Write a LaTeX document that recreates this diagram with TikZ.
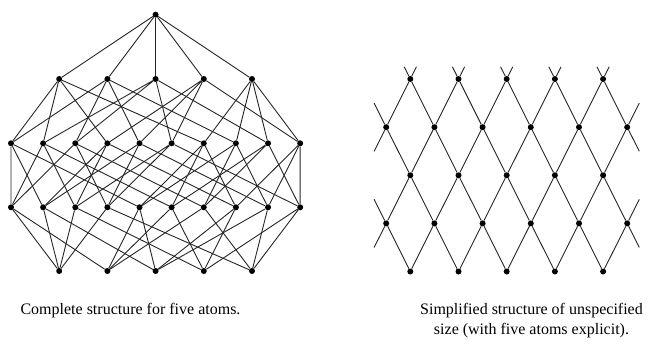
\documentclass[tikz,border=0pt]{standalone}
\usepackage{fontspec}
\setmainfont{Liberation Serif}
\usetikzlibrary{positioning}

\begin{document}
\begin{tikzpicture}[
    x=1pt, y=-1pt,
    atom/.style={circle, fill=black, inner sep=0pt, minimum size=6pt},
    edge/.style={line width=0.9pt, black!85},
    caption/.style={font=\fontsize{16}{20}\selectfont, align=center}
]
\useasboundingbox (0,0) rectangle (654,346);

% ============ COMPLETE STRUCTURE (LEFT) ============
\node[atom] (top) at (155.6,14.7) {};

% quadruples, triples, pairs, atoms
\foreach \n [count=\i] in {1234,1235,1245,1345,2345}
    \node[atom] (q\n) at ({155.6+48.2*(\i-3)},79) {};
\foreach \n [count=\i] in {123,124,125,134,135,145,234,235,245,345}
    \node[atom] (t\n) at ({11+32.13*(\i-1)},143.3) {};
\foreach \n [count=\i] in {12,13,14,15,23,24,25,34,35,45}
    \node[atom] (p\n) at ({11+32.13*(\i-1)},207.3) {};
\foreach \n [count=\i] in {1,...,5}
    \node[atom] (a\n) at ({155.6+48.2*(\i-3)},271) {};

% edges
\foreach \n in {1234,1235,1245,1345,2345}
    \draw[edge] (top) -- (q\n);
\foreach \q/\a/\b/\c/\d in {1234/123/124/134/234, 1235/123/125/135/235,
        1245/124/125/145/245, 1345/134/135/145/345, 2345/234/235/245/345}
    \draw[edge] (q\q) -- (t\a) (q\q) -- (t\b) (q\q) -- (t\c) (q\q) -- (t\d);
\foreach \t/\a/\b/\c in {123/12/13/23, 124/12/14/24, 125/12/15/25, 134/13/14/34,
        135/13/15/35, 145/14/15/45, 234/23/24/34, 235/23/25/35, 245/24/25/45, 345/34/35/45}
    \draw[edge] (t\t) -- (p\a) (t\t) -- (p\b) (t\t) -- (p\c);
\foreach \a/\b in {1/2,1/3,1/4,1/5,2/3,2/4,2/5,3/4,3/5,4/5}
    \draw[edge] (a\a) -- (p\a\b) -- (a\b);

% ============ SIMPLIFIED STRUCTURE (RIGHT) ============
\foreach \r/\y in {1/79,3/175.3,5/271.5}
    \foreach \k in {1,...,5}
        \node[atom] (r\r-\k) at ({410.3+48.2*(\k-1)},\y) {};
\foreach \r/\y in {2/127.2,4/223.4}
    \foreach \k in {1,...,6}
        \node[atom] (r\r-\k) at ({386.2+48.2*(\k-1)},\y) {};

% diamonds
\foreach \r/\u/\d in {2/1/3,4/3/5}
    \foreach \k/\j in {1/2,2/3,3/4,4/5,5/6} {
        \draw[edge] (r\u-\k) -- (r\r-\k) -- (r\d-\k);
        \draw[edge] (r\u-\k) -- (r\r-\j) -- (r\d-\k);
    }

% open ends
\foreach \k in {1,...,5}
    \draw[edge] (r1-\k) -- ++(-6.1,-12.2) coordinate (ul\k)
                (r1-\k) -- ++(6.1,-12.2) coordinate (ur\k);
\foreach \r in {2,4} {
    \draw[edge] (r\r-1) -- ++(-12.1,-24.1) coordinate (lu\r)
                (r\r-1) -- ++(-12.1,24.1) coordinate (ld\r);
    \draw[edge] (r\r-6) -- ++(12.1,-24.1) coordinate (ru\r)
                (r\r-6) -- ++(12.1,24.1) coordinate (rd\r);
}

% captions
\node[caption] (capL) at (130.5,311) {Complete structure for five atoms.};
\node[caption] (capR) at (531.5,321) {Simplified structure of unspecified\\size (with five atoms explicit).};

\end{tikzpicture}
\end{document}
